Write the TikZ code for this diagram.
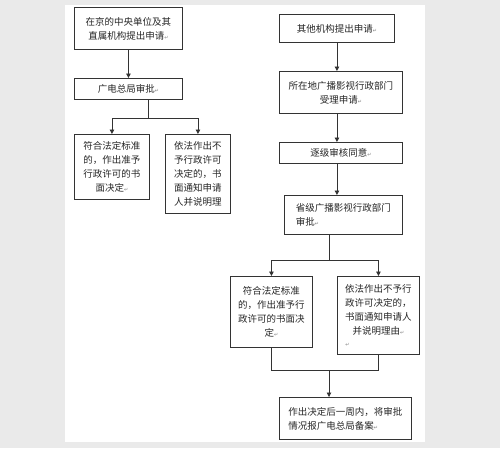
\documentclass[tikz,border=0pt]{standalone}
\usepackage{fontspec}
\newfontfamily\cjk{Noto Sans CJK SC}
\newfontfamily\dv{DejaVu Sans}
\usetikzlibrary{arrows.meta}
\definecolor{bggray}{HTML}{EAEAEA}
\definecolor{ln}{HTML}{333333}
\newcommand\rmk{{\dv\fontsize{5}{5}\selectfont\color{gray}↵}}
\tikzset{
  box/.style={draw=ln, line width=0.9pt, anchor=north west, inner sep=2pt,
    font=\cjk\fontsize{9.5}{14}\selectfont, text=black!85, align=center},
  conn/.style={draw=ln, line width=0.9pt},
  arr/.style={conn, -{Triangle[length=4.5pt,width=4.5pt]}}
}
\begin{document}
\begin{tikzpicture}[x=1pt,y=-1pt]
\fill[bggray] (0,0) rectangle (500,448);
\fill[white] (65,5) rectangle (425,442);
\useasboundingbox (0,0) rectangle (500,448);
% left column
\node[box, minimum width=108pt, minimum height=42pt] (A) at (74,7) {在京的中央单位及其\\直属机构提出申请\rmk};
\node[box, minimum width=108pt, minimum height=21pt] (B) at (74,78) {广电总局审批\rmk};
\node[box, minimum width=75pt, minimum height=65pt] (C) at (74,134) {符合法定标准\\的，作出准予\\行政许可的书\\面决定\rmk};
\node[box, minimum width=65pt, minimum height=79pt] (D) at (165,134) {依法作出不\\予行政许可\\决定的，书\\面通知申请\\人并说明理};
\coordinate (b1) at (148,118);
\draw[arr] (A.south) -- (B.north);
\draw[conn] (B.south -| b1) -- (b1);
\draw[arr] (b1) -| (C.north);
\draw[arr] (b1) -| (D.north);
% right column
\node[box, minimum width=115pt, minimum height=28pt] (E) at (279,14) {其他机构提出申请\rmk};
\node[box, minimum width=123pt, minimum height=42pt] (F) at (279,71) {所在地广播影视行政部门\\受理申请\rmk};
\node[box, minimum width=123pt, minimum height=21pt] (G) at (279,142) {逐级审核同意\rmk};
\node[box, minimum width=118pt, minimum height=39pt, align=left] (H) at (284,195) {省级广播影视行政部门\\审批\rmk};
\node[box, minimum width=82pt, minimum height=71pt] (I) at (230,276) {符合法定标准\\的，作出准予行\\政许可的书面决\\定\rmk};
\node[box, minimum width=82pt, minimum height=78pt] (J) at (337,276) {依法作出不予行\\政许可决定的，\\书面通知申请人\\并说明理由\rmk\\[-2pt]\hspace*{-62pt}\rmk};
\node[box, minimum width=132pt, minimum height=42pt, align=left] (K) at (279,397) {作出决定后一周内，将审批\\情况报广电总局备案\rmk};
\draw[arr] (E.south) -- (E.south |- F.north);
\draw[arr] (E.south |- F.south) -- (E.south |- G.north);
\draw[arr] (E.south |- G.south) -- (E.south |- H.north);
\coordinate (h1) at (329,260);
\draw[conn] (H.south -| h1) -- (h1);
\draw[arr] (h1) -| (I.north);
\draw[arr] (h1) -| (J.north);
\coordinate (m1) at (329,370);
\draw[conn] (I.south) |- (m1) -| (J.south);
\draw[arr] (m1) -- (m1 |- K.north);
\end{tikzpicture}
\end{document}
